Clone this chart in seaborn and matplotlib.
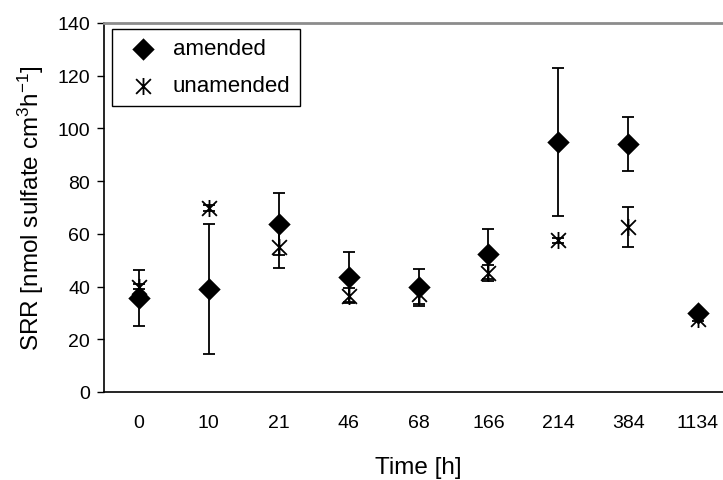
import numpy as np
import pandas as pd
import matplotlib
matplotlib.use("Agg")
import matplotlib.pyplot as plt
from matplotlib.path import Path
import seaborn as sns

# ---- data ----
times = ["0", "10", "21", "46", "68", "166", "214", "384", "1134"]
amended = [35.7, 39.0, 63.8, 43.5, 39.7, 52.5, 94.7, 94.1, 29.8]
amended_err = [10.5, 24.6, 11.8, 9.5, 7.0, 9.5, 28.1, 10.2, 1.2]
unamended = [40.0, 69.7, 55.0, 36.6, 37.0, 45.1, 57.6, 62.7, 27.8]
unamended_err = [1.0, 1.2, 8.0, 2.7, 3.6, 3.0, 1.0, 7.6, 1.0]
yticks = [0, 20, 40, 60, 80, 100, 120, 140]

sns.set_theme(style="white")
plt.rcParams["font.family"] = ["Liberation Sans", "DejaVu Sans"]
plt.rcParams["mathtext.default"] = "regular"
plt.rcParams["text.color"] = "black"
plt.rcParams["axes.labelcolor"] = "black"
plt.rcParams["xtick.color"] = "black"
plt.rcParams["ytick.color"] = "black"

df = pd.DataFrame({"time": times, "amended": amended, "unamended": unamended})

fig = plt.figure(figsize=(7.23, 4.81), dpi=100)
ax = fig.add_axes([104 / 723, 1 - 393 / 481, 629 / 723, 369 / 481])

star = Path([(-1, -1), (1, 1), (-1, 1), (1, -1), (0, -1.15), (0, 1.15)],
            [Path.MOVETO, Path.LINETO, Path.MOVETO, Path.LINETO, Path.MOVETO, Path.LINETO])

xpos = np.arange(len(times))
ax.errorbar(xpos, unamended, yerr=unamended_err, fmt="none", ecolor="black",
            elinewidth=1.3, capsize=4.3, capthick=1.3, zorder=2)
ax.errorbar(xpos, amended, yerr=amended_err, fmt="none", ecolor="black",
            elinewidth=1.3, capsize=4.3, capthick=1.3, zorder=2)

sns.scatterplot(data=df, x="time", y="unamended", marker=star, s=150,
                color="black", linewidth=1.3, edgecolor="black", ax=ax,
                label="unamended", zorder=3)
sns.scatterplot(data=df, x="time", y="amended", marker="D", s=130,
                color="black", edgecolor="black", linewidth=0, ax=ax,
                label="amended", zorder=4)

ax.set_xlim(-0.5, len(times) - 0.5)
ax.set_ylim(0, 140)
ax.set_yticks(yticks)
ax.set_yticklabels([str(v) for v in yticks], fontsize=14, color="black")
ax.set_xticks(xpos)
ax.set_xticklabels(times, fontsize=14, color="black")
ax.set_xticks(np.arange(len(times) + 1) - 0.5, minor=True)
ax.tick_params(axis="x", which="major", length=0, pad=16)
ax.tick_params(axis="x", which="minor", length=5, width=1, color="black", direction="out")
ax.tick_params(axis="y", which="major", length=5, width=1, color="black", direction="out", pad=5,
               left=True)

for s in ["left", "bottom"]:
    ax.spines[s].set_color("black")
    ax.spines[s].set_linewidth(1.2)
ax.spines["top"].set_color("#8c8c8c")
ax.spines["top"].set_linewidth(2)
ax.spines["right"].set_visible(False)

ax.set_xlabel("Time [h]", fontsize=17.5, labelpad=18, color="black")
ax.set_ylabel("SRR [nmol sulfate cm$^{3}$h$^{-1}$]", fontsize=17.5, labelpad=8, color="black")

handles, labels = ax.get_legend_handles_labels()
order = [labels.index("amended"), labels.index("unamended")]
leg = ax.legend([handles[i] for i in order], [labels[i] for i in order],
                loc="upper left", bbox_to_anchor=(8 / 629, 1 - 6 / 369), fontsize=16,
                frameon=True, fancybox=False, edgecolor="black", framealpha=1,
                borderaxespad=0, handletextpad=0.37, borderpad=0.42,
                labelspacing=0.72, handlelength=1.95)
leg.get_frame().set_linewidth(1.0)
for t in leg.get_texts():
    t.set_color("black")

fig.savefig("out.png", dpi=100)
